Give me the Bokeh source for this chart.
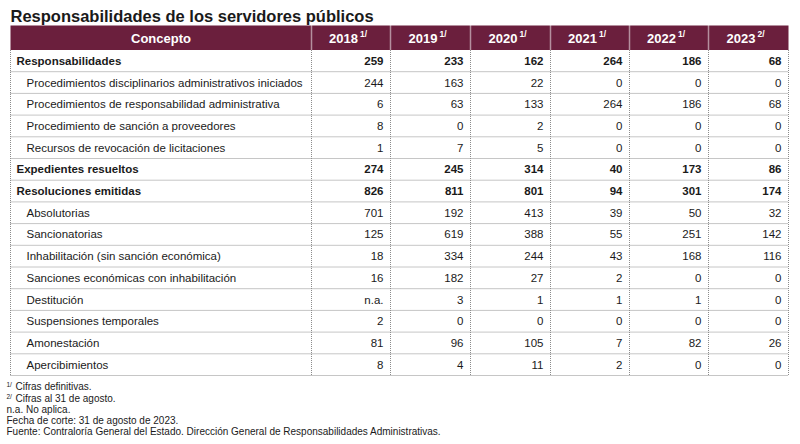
from bokeh.plotting import figure
from bokeh.models import Range1d
from bokeh.core.properties import value
from bokeh.embed import file_html
from bokeh.resources import INLINE

title = "Responsabilidades de los servidores públicos"
header_concept = "Concepto"
years = ["2018", "2019", "2020", "2021", "2022", "2023"]
year_notes = ["1/", "1/", "1/", "1/", "1/", "2/"]

concepts = [
    "Responsabilidades",
    "Procedimientos disciplinarios administrativos iniciados",
    "Procedimientos de responsabilidad administrativa",
    "Procedimiento de sanción a proveedores",
    "Recursos de revocación de licitaciones",
    "Expedientes resueltos",
    "Resoluciones emitidas",
    "Absolutorias",
    "Sancionatorias",
    "Inhabilitación (sin sanción económica)",
    "Sanciones económicas con inhabilitación",
    "Destitución",
    "Suspensiones temporales",
    "Amonestación",
    "Apercibimientos",
]
is_total = [True, False, False, False, False, True, True,
            False, False, False, False, False, False, False, False]

v2018 = [259, 244, 6, 8, 1, 274, 826, 701, 125, 18, 16, None, 2, 81, 8]
v2019 = [233, 163, 63, 0, 7, 245, 811, 192, 619, 334, 182, 3, 0, 96, 4]
v2020 = [162, 22, 133, 2, 5, 314, 801, 413, 388, 244, 27, 1, 0, 105, 11]
v2021 = [264, 0, 264, 0, 0, 40, 94, 39, 55, 43, 2, 1, 0, 7, 2]
v2022 = [186, 0, 186, 0, 0, 173, 301, 50, 251, 168, 0, 1, 0, 82, 0]
v2023 = [68, 0, 68, 0, 0, 86, 174, 32, 142, 116, 0, 0, 0, 26, 0]
series = [v2018, v2019, v2020, v2021, v2022, v2023]

footnote_marks = ["1/", "2/", "", "", ""]
footnotes = [
    "Cifras definitivas.",
    "Cifras al 31 de agosto.",
    "n.a. No aplica.",
    "Fecha de corte: 31 de agosto de 2023.",
    "Fuente: Contraloría General del Estado. Dirección General de Responsabilidades Administrativas.",
]

# ---- layout (page pixel coordinates) ----
FONT = value("Liberation Sans")
MAROON = "#6b1f3d"
INK = "#1a1a1a"
col_edges = [10, 311, 390, 470, 550, 629, 708, 788]
head_top, head_bot = 25, 49.5
row_h = 21.7
n_rows = len(concepts)
body_bot = head_bot + n_rows * row_h

W, H = 792, 440
p = figure(width=W, height=H, output_backend="svg", toolbar_location=None,
           x_range=Range1d(0, W), y_range=Range1d(H, 0),
           x_axis_type=None, y_axis_type=None, min_border=0,
           min_border_left=0, min_border_right=0, min_border_top=0, min_border_bottom=0)
p.grid.visible = False
p.outline_line_color = None
p.background_fill_color = "white"
p.border_fill_color = "white"

# title
p.text(x=[10], y=[15.5], text=[title], text_font=FONT, text_font_size=value("16.5px"),
       text_font_style="bold", text_color=INK, text_baseline="middle", text_align="left")

# header band
p.quad(left=[col_edges[0]], right=[col_edges[-1]], top=[head_top], bottom=[head_bot],
       fill_color=MAROON, line_color=None)
p.segment(x0=col_edges[1:-1], x1=col_edges[1:-1], y0=[head_top] * 6, y1=[head_bot] * 6,
          line_color="white", line_width=1.5, line_dash="1 1")
p.text(x=[(col_edges[0] + col_edges[1]) / 2], y=[37.5], text=[header_concept], text_font=FONT,
       text_font_size=value("13px"), text_font_style="bold", text_color="white",
       text_align="center", text_baseline="middle")
centers = [(col_edges[i + 1] + col_edges[i + 2]) / 2 for i in range(len(years))]
p.text(x=[c + 7 for c in centers], y=[37.5] * len(years), text=years, text_font=FONT,
       text_font_size=value("13px"), text_font_style="bold", text_color="white",
       text_align="right", text_baseline="middle")
p.text(x=[c + 9 for c in centers], y=[33] * len(years), text=year_notes, text_font=FONT,
       text_font_size=value("8.5px"), text_font_style="bold", text_color="white",
       text_align="left", text_baseline="middle")

# grid lines of body
hy = [head_bot + i * row_h for i in range(1, n_rows + 1)]
p.segment(x0=[col_edges[0]] * len(hy), x1=[col_edges[-1]] * len(hy), y0=hy, y1=hy,
          line_color="#8c8c8c", line_width=1, line_dash="1 1")
p.segment(x0=col_edges, x1=col_edges, y0=[head_bot] * len(col_edges), y1=[body_bot] * len(col_edges),
          line_color="#8c8c8c", line_width=1, line_dash="1 1")

# body text
ys = [head_bot + (i + 0.5) * row_h for i in range(n_rows)]
for i, name in enumerate(concepts):
    bold = is_total[i]
    p.text(x=[16 if bold else 26], y=[ys[i]], text=[name], text_font=FONT,
           text_font_size=value("11.5px"), text_font_style="bold" if bold else "normal",
           text_color=INK, text_align="left", text_baseline="middle")
    for j, vals in enumerate(series):
        v = vals[i]
        s = "n.a." if v is None else f"{v:,}"
        p.text(x=[col_edges[j + 2] - 7], y=[ys[i]], text=[s], text_font=FONT,
               text_font_size=value("11.5px"), text_font_style="bold" if bold else "normal",
               text_color=INK, text_align="right", text_baseline="middle")

# footnotes
fy = [386, 398, 409, 420, 431]
for k, (m, t) in enumerate(zip(footnote_marks, footnotes)):
    x0 = 6
    if m:
        p.text(x=[x0], y=[fy[k] - 2], text=[m], text_font=FONT, text_font_size=value("6.5px"),
               text_color=INK, text_align="left", text_baseline="middle")
        x0 = 15
    p.text(x=[x0], y=[fy[k]], text=[t], text_font=FONT, text_font_size=value("10px"),
           text_color=INK, text_align="left", text_baseline="middle")

open("out.html", "w").write(file_html(p, INLINE))
